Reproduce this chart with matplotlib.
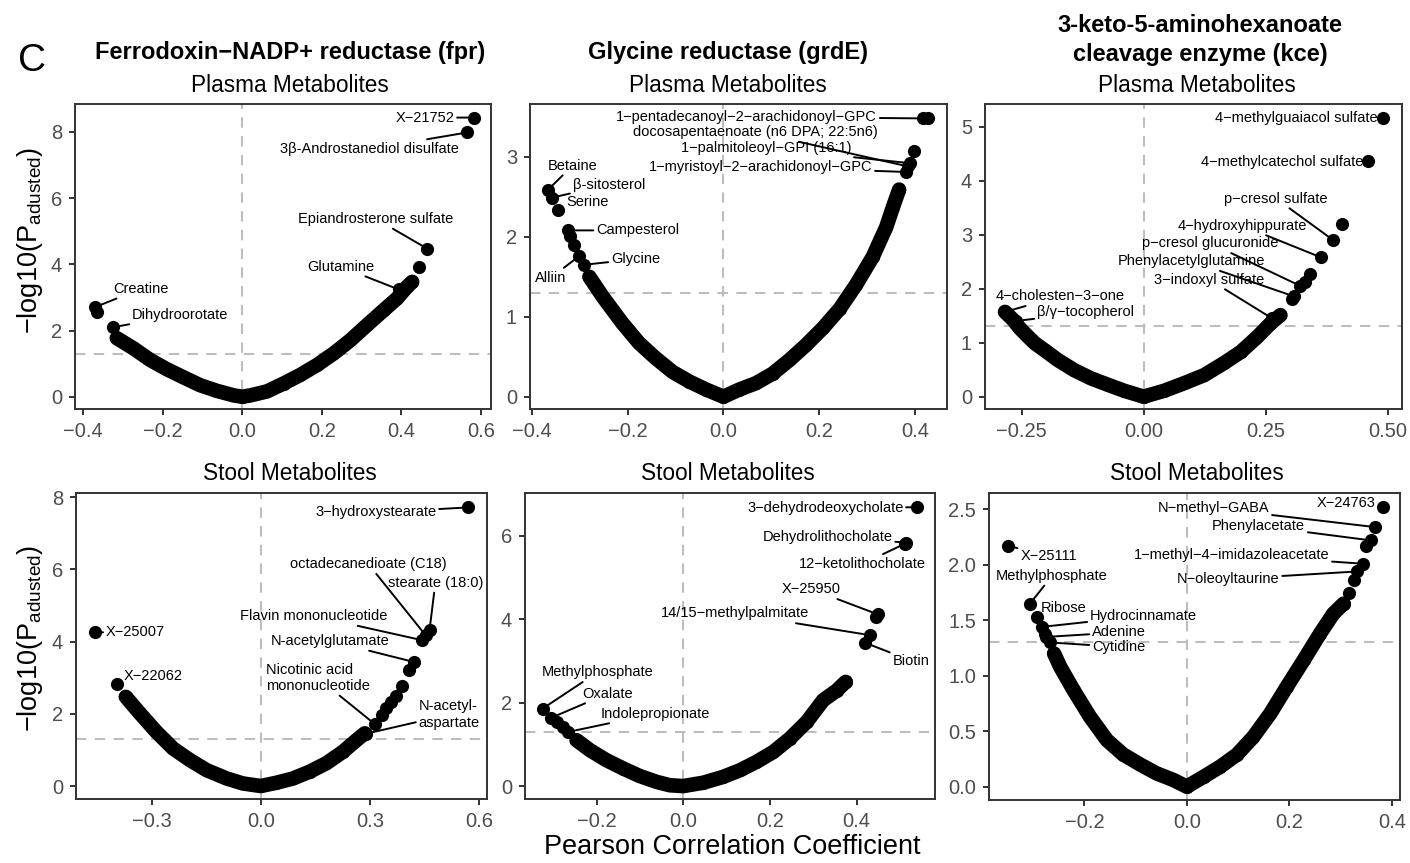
import numpy as np
import matplotlib
matplotlib.use('Agg')
import matplotlib.pyplot as plt

plt.rcParams['font.family'] = ['Liberation Sans', 'DejaVu Sans']
plt.rcParams['mathtext.default'] = 'regular'

# ---------------- data ----------------
# Plasma, fpr
p1_r = [-0.315, -0.273, -0.231, -0.189, -0.148, -0.106, -0.064, -0.021, 0.0, 0.020, 0.062,
        0.104, 0.146, 0.188, 0.230, 0.272, 0.314, 0.356, 0.389, 0.414, 0.427]
p1_v = [1.77, 1.46, 1.11, 0.83, 0.59, 0.35, 0.18, 0.04, 0.0, 0.04, 0.16,
        0.40, 0.66, 0.96, 1.31, 1.71, 2.17, 2.62, 2.97, 3.32, 3.47]
p1_hit_r = [-0.371, -0.365, -0.324, 0.393, 0.444, 0.465, 0.565, 0.582]
p1_hit_v = [2.70, 2.57, 2.10, 3.24, 3.91, 4.47, 7.98, 8.43]

# Plasma, grdE
p2_r = [-0.280, -0.252, -0.211, -0.176, -0.141, -0.106, -0.071, -0.036, 0.0, 0.033, 0.068,
        0.103, 0.138, 0.173, 0.208, 0.243, 0.277, 0.312, 0.340, 0.354, 0.367]
p2_v = [1.50, 1.25, 0.92, 0.67, 0.48, 0.31, 0.19, 0.09, 0.0, 0.09, 0.17,
        0.29, 0.46, 0.65, 0.86, 1.10, 1.40, 1.75, 2.12, 2.37, 2.59]
p2_hit_r = [-0.366, -0.358, -0.345, -0.324, -0.320, -0.312, -0.301, -0.291,
            0.382, 0.385, 0.390, 0.398, 0.417, 0.427]
p2_hit_v = [2.59, 2.49, 2.33, 2.08, 2.01, 1.90, 1.76, 1.65,
            2.81, 2.88, 2.92, 3.07, 3.48, 3.49]

# Plasma, kce
p3_r = [-0.284, -0.267, -0.254, -0.240, -0.223, -0.203, -0.176, -0.142, -0.108, -0.073, -0.040,
        0.0, 0.042, 0.083, 0.124, 0.164, 0.199, 0.233, 0.260, 0.280]
p3_v = [1.57, 1.42, 1.27, 1.14, 0.99, 0.86, 0.68, 0.49, 0.34, 0.22, 0.11,
        0.0, 0.11, 0.25, 0.40, 0.62, 0.83, 1.11, 1.36, 1.51]
p3_hit_r = [-0.284, -0.262, 0.263, 0.304, 0.307, 0.321, 0.331, 0.340, 0.363, 0.388, 0.406, 0.459, 0.491]
p3_hit_v = [1.57, 1.40, 1.45, 1.80, 1.86, 2.05, 2.13, 2.27, 2.58, 2.90, 3.19, 4.37, 5.17]

# Stool, fpr
p4_r = [-0.371, -0.332, -0.287, -0.241, -0.195, -0.149, -0.094, -0.049, 0.0, 0.043, 0.089,
        0.135, 0.180, 0.226, 0.263, 0.286]
p4_v = [2.47, 2.01, 1.50, 1.04, 0.72, 0.44, 0.21, 0.07, 0.0, 0.09, 0.21,
        0.40, 0.63, 0.95, 1.27, 1.46]
p4_hit_r = [-0.456, -0.395, 0.290, 0.313, 0.334, 0.345, 0.359, 0.373, 0.389,
            0.407, 0.420, 0.444, 0.453, 0.464, 0.570]
p4_hit_v = [4.26, 2.84, 1.45, 1.72, 1.97, 2.15, 2.34, 2.49, 2.77,
            3.21, 3.44, 4.04, 4.18, 4.32, 7.72]

# Stool, grdE
p5_r = [-0.246, -0.215, -0.177, -0.138, -0.100, -0.061, -0.031, 0.0, 0.046, 0.092, 0.131,
        0.169, 0.208, 0.246, 0.285, 0.323, 0.354, 0.375]
p5_v = [1.10, 0.86, 0.62, 0.42, 0.24, 0.10, 0.02, 0.0, 0.08, 0.22, 0.38,
        0.58, 0.82, 1.14, 1.54, 2.06, 2.29, 2.50]
p5_hit_r = [-0.324, -0.304, -0.292, -0.277, -0.265, 0.419, 0.431, 0.446, 0.449, 0.511, 0.515, 0.540]
p5_hit_v = [1.86, 1.64, 1.53, 1.42, 1.30, 3.44, 3.62, 4.06, 4.12, 5.81, 5.84, 6.69]

# Stool, kce
p6_r = [-0.259, -0.247, -0.221, -0.189, -0.156, -0.124, -0.091, -0.059, -0.026, 0.0, 0.033,
        0.065, 0.098, 0.130, 0.163, 0.195, 0.228, 0.260, 0.286, 0.306]
p6_v = [1.20, 1.08, 0.87, 0.63, 0.42, 0.29, 0.20, 0.12, 0.06, 0.0, 0.09,
        0.18, 0.29, 0.45, 0.66, 0.90, 1.14, 1.38, 1.56, 1.65]
p6_hit_r = [-0.348, -0.306, -0.293, -0.283, -0.277, -0.274, -0.267,
            0.317, 0.326, 0.333, 0.343, 0.350, 0.359, 0.367, 0.382]
p6_hit_v = [2.17, 1.65, 1.53, 1.44, 1.38, 1.35, 1.30,
            1.75, 1.86, 1.94, 2.01, 2.17, 2.22, 2.34, 2.52]

# labels: (text, index of hit point, text x, text y, alignment)
p1_labels = [("Creatine", 0, -0.324, 3.26, 'left'),
             ("Dihydroorotate", 2, -0.277, 2.47, 'left'),
             ("Glutamine", 3, 0.247, 3.93, 'center'),
             ("Epiandrosterone sulfate", 5, 0.336, 5.37, 'center'),
             ("3β-Androstanediol disulfate", 6, 0.544, 7.48, 'right'),
             ("X−21752", 7, 0.533, 8.43, 'right')]
p2_labels = [("Betaine", 0, -0.315, 2.89, 'center'),
             ("β-sitosterol", 1, -0.315, 2.65, 'left'),
             ("Serine", 2, -0.329, 2.43, 'left'),
             ("Campesterol", 3, -0.266, 2.08, 'left'),
             ("Alliin", 6, -0.360, 1.49, 'center'),
             ("Glycine", 7, -0.235, 1.72, 'left'),
             ("1−myristoyl−2−arachidonoyl−GPC", 8, 0.311, 2.875, 'right'),
             ("docosapentaenoate (n6 DPA; 22:5n6)", 9, 0.323, 3.31, 'right'),
             ("1−palmitoleoyl−GPI (16:1)", 10, 0.267, 3.11, 'right'),
             ("1−pentadecanoyl−2−arachidonoyl−GPC", 12, 0.321, 3.50, 'right')]
p3_labels = [("4−cholesten−3−one", 0, -0.172, 1.86, 'center'),
             ("β/γ−tocopherol", 1, -0.119, 1.56, 'center'),
             ("3−indoxyl sulfate", 2, 0.134, 2.17, 'center'),
             ("Phenylacetylglutamine", 4, 0.098, 2.51, 'center'),
             ("p−cresol glucuronide", 5, 0.137, 2.84, 'center'),
             ("4−hydroxyhippurate", 8, 0.201, 3.17, 'center'),
             ("p−cresol sulfate", 9, 0.271, 3.67, 'center'),
             ("4−methylcatechol sulfate", 11, 0.449, 4.35, 'right'),
             ("4−methylguaiacol sulfate", 12, 0.480, 5.16, 'right')]
p4_labels = [("X−25007", 0, -0.426, 4.26, 'left'),
             ("X−22062", 1, -0.376, 3.06, 'left'),
             ("N-acetyl-\naspartate", 2, 0.518, 1.98, 'center'),
             ("Nicotinic acid\nmononucleotide", 3, 0.156, 3.0, 'center'),
             ("N-acetylglutamate", 10, 0.191, 4.02, 'center'),
             ("Flavin mononucleotide", 11, 0.146, 4.71, 'center'),
             ("octadecanedioate (C18)", 12, 0.296, 6.15, 'center'),
             ("stearate (18:0)", 13, 0.480, 5.63, 'center'),
             ("3−hydroxystearate", 14, 0.483, 7.58, 'right')]
p5_labels = [("Methylphosphate", 0, -0.198, 2.73, 'center'),
             ("Oxalate", 1, -0.232, 2.22, 'left'),
             ("Indolepropionate", 4, -0.190, 1.74, 'left'),
             ("Biotin", 5, 0.483, 3.01, 'left'),
             ("14/15−methylpalmitate", 6, 0.291, 4.14, 'right'),
             ("X−25950", 8, 0.364, 4.72, 'right'),
             ("12−ketolithocholate", 9, 0.560, 5.33, 'right'),
             ("Dehydrolithocholate", 10, 0.483, 5.98, 'right'),
             ("3−dehydrodeoxycholate", 11, 0.508, 6.66, 'right')]
p6_labels = [("X−25111", 0, -0.325, 2.08, 'left'),
             ("Methylphosphate", 1, -0.263, 1.90, 'center'),
             ("Ribose", 2, -0.285, 1.61, 'left'),
             ("Hydrocinnamate", 3, -0.189, 1.54, 'left'),
             ("Adenine", 5, -0.185, 1.39, 'left'),
             ("Cytidine", 6, -0.185, 1.26, 'left'),
             ("N−oleoyltaurine", 9, 0.181, 1.87, 'right'),
             ("1−methyl−4−imidazoleacetate", 10, 0.278, 2.09, 'right'),
             ("Phenylacetate", 12, 0.231, 2.35, 'right'),
             ("N−methyl−GABA", 13, 0.161, 2.51, 'right'),
             ("X−24763", 14, 0.369, 2.56, 'right')]

# ---------------- drawing ----------------
W, H = 1410, 863
fig = plt.figure(figsize=(W / 100, H / 100), dpi=100)


def box(l, t, r, b):
    return [l / W, 1 - b / H, (r - l) / W, (b - t) / H]


def fmt(v, nd):
    return f"{v:.{nd}f}".replace('-', '\u2212')


def panel(rect, cr, cv, hr, hv, labels, xlim, ylim, xticks, xnd, yticks, ynd):
    ax = fig.add_axes(box(*rect))
    ax.axvline(0, color='#bdbdbd', lw=1.5, ls=(0, (5, 4)), zorder=1)
    ax.axhline(-np.log10(0.05), color='#bdbdbd', lw=1.5, ls=(0, (5, 4)), zorder=1)
    ax.plot(cr, cv, color='black', lw=10.5, solid_capstyle='round',
            solid_joinstyle='round', zorder=2)
    ax.scatter(cr, cv, s=90, c='black', lw=0, zorder=3)
    ax.scatter(hr, hv, s=90, c='black', lw=0, zorder=3)
    for name, i, tx, ty, ha in labels:
        ax.annotate(name, xy=(hr[i], hv[i]), xytext=(tx, ty), ha=ha, va='center',
                    multialignment='left', fontsize=10.5, color='black',
                    arrowprops=dict(arrowstyle='-', lw=1.4, color='black',
                                    shrinkA=0, shrinkB=4))
    ax.set_xlim(*xlim)
    ax.set_ylim(*ylim)
    ax.set_xticks(xticks)
    ax.set_xticklabels([fmt(t, xnd) for t in xticks])
    ax.set_yticks(yticks)
    ax.set_yticklabels([fmt(t, ynd) for t in yticks])
    ax.tick_params(labelsize=14.5, labelcolor='#4d4d4d', color='#333333',
                   length=4.3, width=1.4, pad=5)
    for s in ax.spines.values():
        s.set_color('#333333')
        s.set_linewidth(1.4)
    return ax


panel((75, 104, 491, 409), p1_r, p1_v, p1_hit_r, p1_hit_v, p1_labels,
      (-0.42, 0.625), (-0.37, 8.84), [-0.4, -0.2, 0, 0.2, 0.4, 0.6], 1, [0, 2, 4, 6, 8], 0)
panel((530, 104, 947, 409), p2_r, p2_v, p2_hit_r, p2_hit_v, p2_labels,
      (-0.404, 0.467), (-0.153, 3.66), [-0.4, -0.2, 0, 0.2, 0.4], 1, [0, 1, 2, 3], 0)
panel((985, 104, 1402, 409), p3_r, p3_v, p3_hit_r, p3_hit_v, p3_labels,
      (-0.325, 0.529), (-0.228, 5.42), [-0.25, 0, 0.25, 0.5], 2, [0, 1, 2, 3, 4, 5], 0)
panel((76, 493, 487, 799), p4_r, p4_v, p4_hit_r, p4_hit_v, p4_labels,
      (-0.508, 0.622), (-0.36, 8.12), [-0.3, 0, 0.3, 0.6], 1, [0, 2, 4, 6, 8], 0)
panel((525, 493, 935, 799), p5_r, p5_v, p5_hit_r, p5_hit_v, p5_labels,
      (-0.365, 0.581), (-0.31, 7.03), [-0.2, 0, 0.2, 0.4], 1, [0, 2, 4, 6], 0)
panel((989, 493, 1400, 800), p6_r, p6_v, p6_hit_r, p6_hit_v, p6_labels,
      (-0.386, 0.416), (-0.12, 2.647), [-0.2, 0, 0.2, 0.4], 1,
      [0, 0.5, 1.0, 1.5, 2.0, 2.5], 1)


def ftext(x, y, s, **kw):
    fig.text(x / W, 1 - y / H, s, ha='center', va='center', **kw)


ftext(32, 61, 'C', fontsize=28)
ftext(290, 53, 'Ferrodoxin−NADP+ reductase (fpr)', fontsize=17, fontweight='bold')
ftext(728, 53, 'Glycine reductase (grdE)', fontsize=17, fontweight='bold')
ftext(1200, 25, '3-keto-5-aminohexanoate', fontsize=17, fontweight='bold')
ftext(1200, 54, 'cleavage enzyme (kce)', fontsize=17, fontweight='bold')
for cx in (290, 728, 1197):
    ftext(cx, 86, 'Plasma Metabolites', fontsize=16.3)
    ftext(cx, 473, 'Stool Metabolites', fontsize=16.3)
ylab = '\u2212log10(P$_{adusted}$)'
ftext(30, 240, ylab, fontsize=19.5, rotation=90)
ftext(30, 638, ylab, fontsize=19.5, rotation=90)
ftext(732, 847, 'Pearson Correlation Coefficient', fontsize=19.5)

fig.savefig('out.png', dpi=100)
